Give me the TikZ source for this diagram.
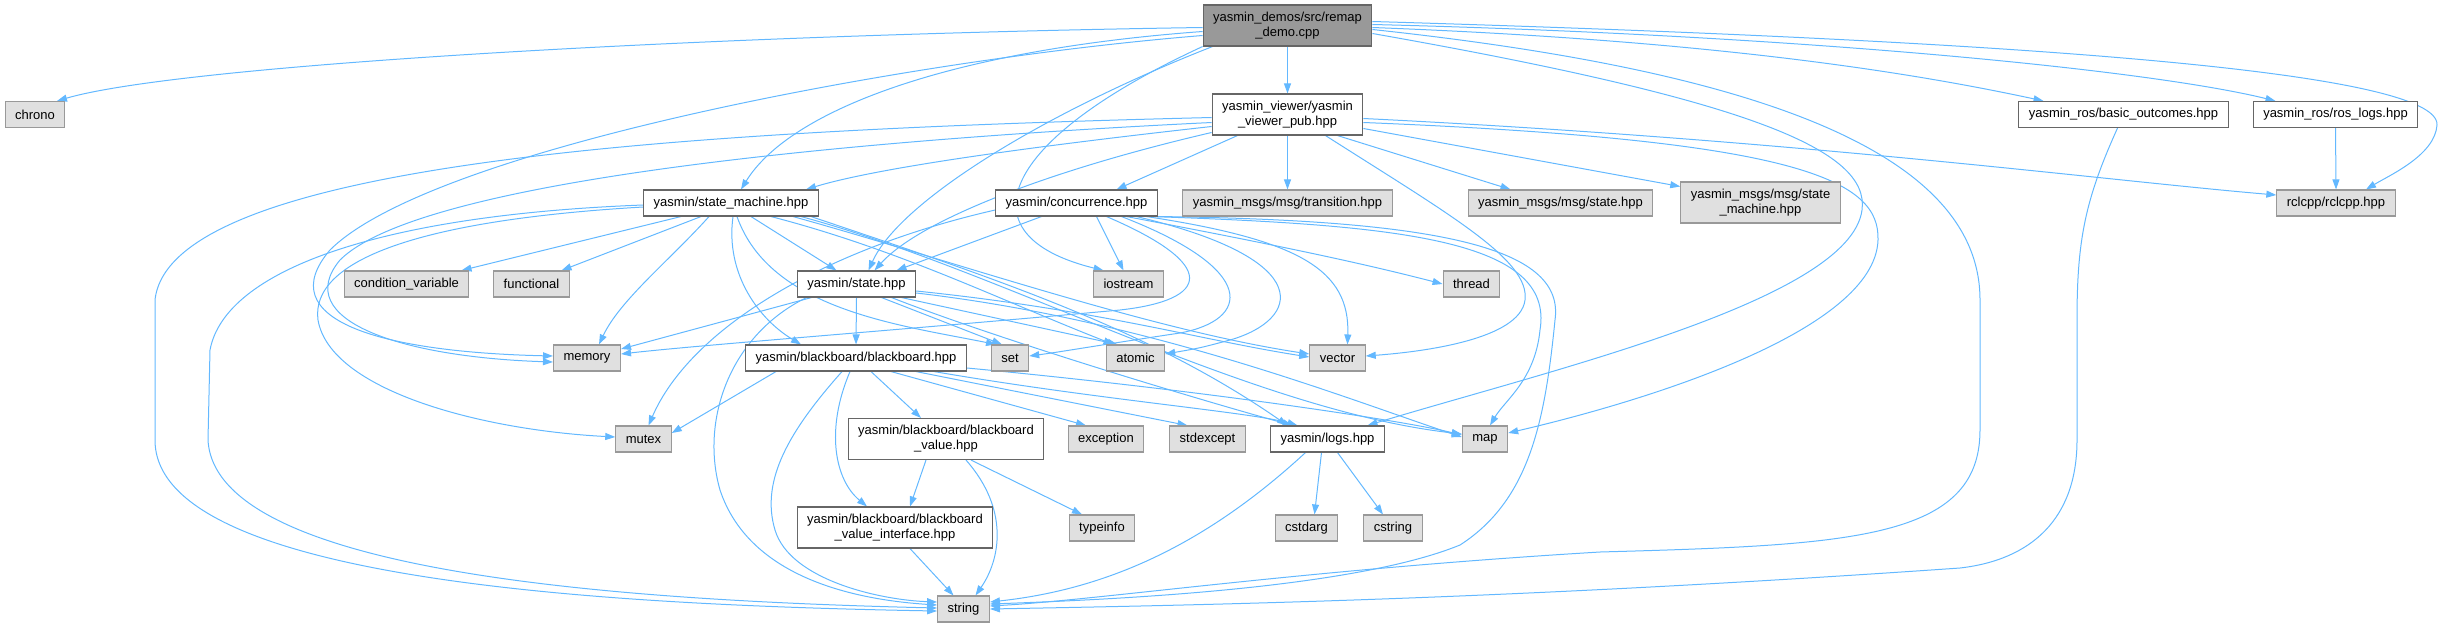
\documentclass[tikz,border=0pt]{standalone}
\usepackage{fontspec}
\setmainfont{Liberation Sans}
\usetikzlibrary{arrows.meta}
\definecolor{edgec}{HTML}{63B8FF}
\definecolor{bd}{HTML}{666666}
\definecolor{exbd}{HTML}{999999}
\definecolor{exfill}{HTML}{E0E0E0}
\definecolor{rootfill}{HTML}{999999}
\pgfdeclarelayer{bg}
\pgfsetlayers{bg,main}
\tikzset{
  boxbase/.style={line width=1.1pt, inner xsep=10pt, inner ysep=3pt, minimum height=26pt,
    font=\fontsize{13}{15}\selectfont, align=center, text=black},
  intnode/.style={boxbase, draw=bd, fill=white},
  extnode/.style={boxbase, draw=exbd, fill=exfill},
  rootnode/.style={boxbase, draw=bd, fill=rootfill, minimum height=41pt},
  twol/.style={minimum height=41pt},
  conn/.style={draw=edgec, line width=1pt, -{Triangle[length=10pt,width=7pt]}},
}
\begin{document}
\begin{tikzpicture}[x=1pt,y=-1pt]
\useasboundingbox (0,0) rectangle (2444,627);
% nodes
\node[rootnode] (R) at (1287.5,25.5) {yasmin\_demos/src/remap\\\_demo.cpp};
\node[extnode] (chrono) at (35,114.5) {chrono};
\node[intnode,twol] (V) at (1287.5,114.5) {yasmin\_viewer/yasmin\\\_viewer\_pub.hpp};
\node[intnode] (BO) at (2123.5,114.5) {yasmin\_ros/basic\_outcomes.hpp};
\node[intnode] (RL) at (2335.5,114.5) {yasmin\_ros/ros\_logs.hpp};
\node[intnode] (SM) at (731,203) {yasmin/state\_machine.hpp};
\node[intnode] (C) at (1076.5,203) {yasmin/concurrence.hpp};
\node[extnode] (TR) at (1287.5,203) {yasmin\_msgs/msg/transition.hpp};
\node[extnode] (MS) at (1560.5,203) {yasmin\_msgs/msg/state.hpp};
\node[extnode,twol] (MSM) at (1760.5,202.5) {yasmin\_msgs/msg/state\\\_machine.hpp};
\node[extnode] (RC) at (2336,203) {rclcpp/rclcpp.hpp};
\node[extnode] (CV) at (406.5,284) {condition\_variable};
\node[extnode] (FN) at (531.5,284) {functional};
\node[intnode] (ST) at (856.5,284) {yasmin/state.hpp};
\node[extnode] (IO) at (1128.5,284) {iostream};
\node[extnode] (TH) at (1471.5,284) {thread};
\node[extnode] (MEM) at (587,358) {memory};
\node[intnode] (BB) at (856,358) {yasmin/blackboard/blackboard.hpp};
\node[extnode] (SET) at (1010,358) {set};
\node[extnode] (AT) at (1135.5,358) {atomic};
\node[extnode] (VEC) at (1337.5,358) {vector};
\node[extnode] (MUT) at (643.5,439) {mutex};
\node[intnode,twol] (BBV) at (946,439) {yasmin/blackboard/blackboard\\\_value.hpp};
\node[extnode] (EXC) at (1106,439) {exception};
\node[extnode] (SEX) at (1207.5,439) {stdexcept};
\node[intnode] (LOG) at (1327.5,439) {yasmin/logs.hpp};
\node[extnode] (MAP) at (1485,439) {map};
\node[intnode,twol] (BBVI) at (895,527.5) {yasmin/blackboard/blackboard\\\_value\_interface.hpp};
\node[extnode] (TI) at (1102,528) {typeinfo};
\node[extnode] (CSA) at (1306.5,528) {cstdarg};
\node[extnode] (CST) at (1393,528) {cstring};
\node[extnode] (STR) at (963.5,609) {string};
% edges
\begin{pgfonlayer}{bg}
% root
\draw[conn] ([yshift=-2pt]R.west) .. controls (700,35) and (180,65) .. ([xshift=22pt]chrono.north);
\draw[conn] ([yshift=-10pt]R.west) .. controls (900,60) and (430,150) .. (330,250) .. controls (270,320) and (380,352) .. ([yshift=2pt]MEM.west);
\draw[conn] ([yshift=-6pt]R.west) .. controls (950,50) and (790,110) .. ([xshift=10pt]SM.north);
\draw[conn] (R.south) -- (V.north);
\draw[conn] ([xshift=-75pt]R.south) .. controls (1050,110) and (900,200) .. ([xshift=12pt]ST.north);
\draw[conn] (R.south west) .. controls (1000,140) and (960,235) .. ([xshift=-25pt]IO.north);
\draw[conn] ([yshift=-8pt]R.east) .. controls (1750,100) and (1870,150) .. (1862,210) .. controls (1850,300) and (1550,370) .. ([xshift=40pt]LOG.north);
\draw[conn] ([yshift=-4pt]R.east) .. controls (1750,70) and (1980,150) .. (1980,300) -- (1980,430) .. controls (1980,540) and (1850,545) .. (1600,552) .. controls (1300,570) and (1100,600) .. ([yshift=3pt]STR.east);
\draw[conn] ([yshift=-2pt]R.east) .. controls (1700,40) and (1900,70) .. ([xshift=-80pt]BO.north);
\draw[conn] ([yshift=1pt]R.east) .. controls (1800,35) and (2150,70) .. ([xshift=-60pt]RL.north);
\draw[conn] ([yshift=4pt]R.east) .. controls (2000,40) and (2440,70) .. (2437,125) .. controls (2435,155) and (2390,175) .. ([xshift=30pt]RC.north);
% viewer
\draw[conn] ([yshift=-8pt]V.west) .. controls (850,140) and (420,180) .. (340,260) .. controls (290,320) and (400,357) .. ([yshift=-4pt]MEM.west);
\draw[conn] ([yshift=-3pt]V.west) .. controls (700,130) and (170,160) .. (155,300) -- (155,440) .. controls (155,580) and (600,605) .. ([yshift=-2pt]STR.west);
\draw[conn] ([yshift=-12pt]V.west) .. controls (1000,150) and (870,170) .. ([xshift=75pt]SM.north);
\draw[conn] ([yshift=-18pt]V.west) .. controls (1050,170) and (920,220) .. ([xshift=18pt]ST.north);
\draw[conn] ([xshift=-50pt]V.south) -- ([xshift=40pt]C.north);
\draw[conn] (V.south) -- (TR.north);
\draw[conn] ([xshift=50pt]V.south) -- ([xshift=-50pt]MS.north);
\draw[conn] ([yshift=-14pt]V.east) -- ([yshift=16pt]MSM.west);
\draw[conn] ([yshift=-4pt]V.east) .. controls (1800,140) and (2100,180) .. ([yshift=8pt]RC.west);
\draw[conn] ([yshift=-8pt]V.east) .. controls (1800,140) and (1880,180) .. (1878,240) .. controls (1875,330) and (1650,400) .. ([yshift=6pt]MAP.east);
\draw[conn] ([xshift=38pt]V.south) .. controls (1450,215) and (1530,260) .. (1525,300) .. controls (1520,340) and (1420,352) .. ([yshift=2pt]VEC.east);
% other roots
\draw[conn] ([xshift=-6pt]BO.south) .. controls (2085,200) and (2077,240) .. (2077,320) -- (2077,440) .. controls (2077,520) and (2030,560) .. (1960,568) .. controls (1500,600) and (1200,605) .. ([yshift=0pt]STR.east);
\draw[conn] (RL.south) -- (RC.north);
% concurrence
\draw[conn] ([xshift=-35pt]C.south) -- ([xshift=40pt]ST.north);
\draw[conn] ([xshift=20pt]C.south) -- ([xshift=-5pt]IO.north);
\draw[conn] ([xshift=50pt]C.south) .. controls (1250,240) and (1350,260) .. (TH.west);
\draw[conn] ([yshift=-7pt]C.west) .. controls (820,250) and (690,330) .. ([xshift=5pt]MUT.north);
\draw[conn] ([xshift=30pt]C.south) .. controls (1220,265) and (1210,300) .. (1120,310) .. controls (900,330) and (700,345) .. ([yshift=4pt]MEM.east);
\draw[conn] ([xshift=45pt]C.south) .. controls (1260,270) and (1250,320) .. (1180,333) .. controls (1100,345) and (1060,352) .. ([yshift=2pt]SET.east);
\draw[conn] ([xshift=60pt]C.south) .. controls (1320,260) and (1300,320) .. (1230,340) .. controls (1200,348) .. ([yshift=4pt]AT.east);
\draw[conn] ([xshift=70pt]C.south) .. controls (1300,240) and (1350,270) .. ([xshift=10pt]VEC.north);
\draw[conn] ([xshift=75pt]C.south) .. controls (1400,225) and (1555,240) .. (1540,330) .. controls (1535,380) and (1505,400) .. ([xshift=5pt]MAP.north);
\draw[conn] (C.south east) .. controls (1450,220) and (1565,250) .. (1555,320) .. controls (1545,420) and (1530,500) .. (1460,545) .. controls (1350,590) and (1100,600) .. ([yshift=5pt]STR.east);
% state machine
\draw[conn] ([xshift=-50pt]SM.south) -- ([xshift=55pt]CV.north);
\draw[conn] ([xshift=-30pt]SM.south) -- ([xshift=30pt]FN.north);
\draw[conn] ([xshift=-22pt]SM.south) .. controls (670,260) and (620,300) .. ([xshift=12pt]MEM.north);
\draw[conn] ([yshift=-4pt]SM.west) .. controls (420,220) and (310,260) .. (318,320) .. controls (330,390) and (480,430) .. ([yshift=2pt]MUT.west);
\draw[conn] ([yshift=-2pt]SM.west) .. controls (380,215) and (225,270) .. (210,350) -- (208,440) .. controls (215,570) and (600,600) .. ([yshift=1pt]STR.west);
\draw[conn] ([xshift=20pt]SM.south) -- ([xshift=-20pt]ST.north);
\draw[conn] ([xshift=2pt]SM.south) .. controls (725,275) and (760,320) .. ([xshift=-55pt]BB.north);
\draw[conn] ([xshift=6pt]SM.south) .. controls (770,310) and (900,325) .. ([xshift=-14pt]SET.north);
\draw[conn] ([xshift=40pt]SM.south) .. controls (900,250) and (1000,300) .. ([xshift=-22pt]AT.north);
\draw[conn] ([xshift=62pt]SM.south) .. controls (950,260) and (1150,330) .. ([yshift=4pt]VEC.west);
\draw[conn] ([xshift=70pt]SM.south) .. controls (1000,270) and (1250,410) .. ([yshift=5pt]MAP.west);
\draw[conn] ([xshift=80pt]SM.south) .. controls (1000,280) and (1150,330) .. ([xshift=-40pt]LOG.north);
% state
\draw[conn] ([xshift=-45pt]ST.south) -- ([yshift=9pt]MEM.east);
\draw[conn] (ST.south) -- (BB.north);
\draw[conn] ([xshift=25pt]ST.south) -- ([xshift=-8pt]SET.north);
\draw[conn] ([xshift=45pt]ST.south) -- ([xshift=-18pt]AT.north);
\draw[conn] ([yshift=-7pt]ST.east) .. controls (1100,310) and (1200,340) .. ([yshift=1pt]VEC.west);
\draw[conn] ([yshift=-9pt]ST.east) .. controls (1150,320) and (1350,400) .. ([yshift=2pt]MAP.west);
\draw[conn] ([xshift=35pt]ST.south) .. controls (1000,340) and (1200,400) .. ([xshift=-35pt]LOG.north);
\draw[conn] ([xshift=-50pt]ST.south) .. controls (730,335) and (700,420) .. (720,490) .. controls (750,580) and (860,600) .. ([yshift=4pt]STR.west);
% blackboard
\draw[conn] ([xshift=-80pt]BB.south) -- ([yshift=6pt]MUT.east);
\draw[conn] ([xshift=15pt]BB.south) -- ([xshift=-25pt]BBV.north);
\draw[conn] ([xshift=-6pt]BB.south) .. controls (825,430) and (835,480) .. ([xshift=-28pt]BBVI.north);
\draw[conn] ([xshift=-14pt]BB.south) .. controls (790,430) and (760,480) .. (775,530) .. controls (790,580) and (880,600) .. ([yshift=7pt]STR.west);
\draw[conn] ([xshift=35pt]BB.south) -- ([xshift=-20pt]EXC.north);
\draw[conn] ([xshift=60pt]BB.south) -- ([xshift=-20pt]SEX.north);
\draw[conn] ([xshift=78pt]BB.south) .. controls (1100,400) and (1250,412) .. ([xshift=-30pt]LOG.north);
\draw[conn] ([yshift=-10pt]BB.east) .. controls (1200,390) and (1400,420) .. ([yshift=4pt]MAP.west);
% blackboard value
\draw[conn] ([xshift=-20pt]BBV.south) -- ([xshift=15pt]BBVI.north);
\draw[conn] ([xshift=25pt]BBV.south) -- ([xshift=-20pt]TI.north);
\draw[conn] ([xshift=20pt]BBV.south) .. controls (1010,510) and (1000,560) .. ([xshift=12pt]STR.north);
\draw[conn] ([xshift=15pt]BBVI.south) -- ([xshift=-10pt]STR.north);
% logs
\draw[conn] ([xshift=-6pt]LOG.south) -- ([xshift=8pt]CSA.north);
\draw[conn] ([xshift=10pt]LOG.south) -- ([xshift=-10pt]CST.north);
\draw[conn] ([xshift=-22pt]LOG.south) .. controls (1200,550) and (1100,590) .. ([yshift=7pt]STR.east);
\end{pgfonlayer}
\end{tikzpicture}
\end{document}
